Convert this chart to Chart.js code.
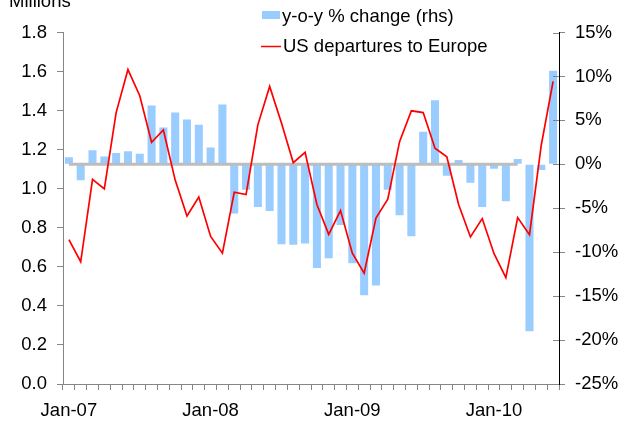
<!DOCTYPE html>
<html><head><meta charset="utf-8">
<script src="https://cdn.jsdelivr.net/npm/chart.js@4/dist/chart.umd.min.js"></script>
<style>html,body{margin:0;padding:0;background:#fff}#wrap{width:630px;height:423px;position:relative}</style>
</head><body><div id="wrap"><canvas id="c" width="630" height="423"></canvas></div>
<script>
const months = ["Jan-07","Feb-07","Mar-07","Apr-07","May-07","Jun-07","Jul-07","Aug-07","Sep-07","Oct-07","Nov-07","Dec-07",
"Jan-08","Feb-08","Mar-08","Apr-08","May-08","Jun-08","Jul-08","Aug-08","Sep-08","Oct-08","Nov-08","Dec-08",
"Jan-09","Feb-09","Mar-09","Apr-09","May-09","Jun-09","Jul-09","Aug-09","Sep-09","Oct-09","Nov-09","Dec-09",
"Jan-10","Feb-10","Mar-10","Apr-10","May-10","Jun-10"];
const yoyChange = [0.8,-1.8,1.6,0.9,1.3,1.5,1.2,6.7,4.2,5.9,5.1,4.5,
1.9,6.8,-5.6,-2.9,-4.85,-5.3,-9.1,-9.15,-9.0,-11.8,-10.7,-6.9,
-11.25,-14.9,-13.8,-2.9,-5.8,-8.2,3.7,7.3,-1.3,0.5,-2.1,-4.85,
-0.5,-4.2,0.6,-19.0,-0.65,10.65];
const departures = [0.739,0.626,1.048,0.999,1.390,1.610,1.476,1.238,1.301,1.044,0.860,0.957,
0.756,0.670,0.982,0.970,1.327,1.524,1.336,1.133,1.186,0.919,0.766,0.888,
0.670,0.567,0.850,0.946,1.241,1.399,1.390,1.207,1.164,0.919,0.753,0.847,
0.667,0.545,0.852,0.765,1.224,1.550];
const zeroLine = [0,0,0,0,0,0,0,0,0,0,0,0, 0,0,0,0,0,0,0,0,0,0,0,0, 0,0,0,0,0,0,0,0,0,0,0,0, 0,0,0,null,null,null];
const leftTicks = [0,0.2,0.4,0.6,0.8,1.0,1.2,1.4,1.6,1.8];
const rightTicks = [-25,-20,-15,-10,-5,0,5,10,15];
const legendLabels = ["y-o-y % change (rhs)","US departures to Europe"];
const unitLabel = "Millions";

const FONT = "'Liberation Sans', Arial, sans-serif";
Chart.defaults.font.family = FONT;
Chart.defaults.font.size = 18.5;
Chart.defaults.color = '#000';

const extras = {
  id:'extras',
  afterDraw(chart){
    const ctx = chart.ctx;
    const y2 = chart.scales.y2;
    ctx.save();
    ctx.strokeStyle = '#868686'; ctx.lineWidth = 1;
    rightTicks.forEach(v=>{
      const py = Math.round(y2.getPixelForValue(v))+0.5;
      ctx.beginPath(); ctx.moveTo(y2.left-6, py); ctx.lineTo(y2.left, py); ctx.stroke();
    });
    ctx.font = "18.5px " + FONT;
    ctx.fillStyle = '#000';
    ctx.textBaseline = 'alphabetic';
    ctx.fillText(unitLabel, 9, 7);
    ctx.fillStyle = '#99ccff';
    ctx.fillRect(262, 11, 18, 8);
    ctx.fillStyle = '#000';
    ctx.fillText(legendLabels[0], 282, 22);
    ctx.strokeStyle = '#ff0000'; ctx.lineWidth = 1.5;
    ctx.beginPath(); ctx.moveTo(261, 46.5); ctx.lineTo(281, 46.5); ctx.stroke();
    ctx.fillText(legendLabels[1], 283, 52);
    ctx.restore();
  }
};

new Chart(document.getElementById('c'), {
  data: {
    labels: months,
    datasets: [
      {type:'line', label: legendLabels[1], data: departures, yAxisID:'y', borderColor:'#ff0000', borderWidth:1.7, pointRadius:0, tension:0, order:1},
      {type:'line', label:'zero', data: zeroLine, yAxisID:'y2', borderColor:'#bdbdbd', borderWidth:3, pointRadius:0, order:2, spanGaps:false},
      {type:'bar', label: legendLabels[0], data: yoyChange, yAxisID:'y2', backgroundColor:'#99ccff', barPercentage:0.68, categoryPercentage:1, order:3}
    ]
  },
  options: {
    responsive:false, animation:false,
    layout:{padding:{top:32.5, left:0, right:0, bottom:0}},
    plugins:{legend:{display:false}, tooltip:{enabled:false}},
    scales:{
      x:{
        offset:true,
        grid:{display:true, offset:true, drawOnChartArea:false, drawTicks:true, tickLength:6, color:'#868686'},
        border:{display:true, color:'#868686'},
        ticks:{autoSkip:false, maxRotation:0, minRotation:0, padding:10, callback:(v,i)=> i%12===0 ? months[i] : ''},
        afterFit:(s)=>{ s.height = 39; }
      },
      y:{
        position:'left', min:0, max:1.8,
        afterBuildTicks:(s)=>{ s.ticks = leftTicks.map(v=>({value:v})); },
        grid:{drawOnChartArea:false, tickLength:6, color:'#868686'},
        border:{color:'#868686'},
        ticks:{padding:10, callback:(v)=> Number(v).toFixed(1)},
        afterFit:(s)=>{ s.width = 63; }
      },
      y2:{
        position:'right', min:-25, max:15,
        afterBuildTicks:(s)=>{ s.ticks = rightTicks.map(v=>({value:v})); },
        grid:{drawOnChartArea:false, tickLength:6, color:'#868686'},
        border:{color:'#000'},
        ticks:{padding:10, callback:(v)=> v + '%'},
        afterFit:(s)=>{ s.width = 71; }
      }
    }
  },
  plugins:[extras]
});
</script>
</body></html>
